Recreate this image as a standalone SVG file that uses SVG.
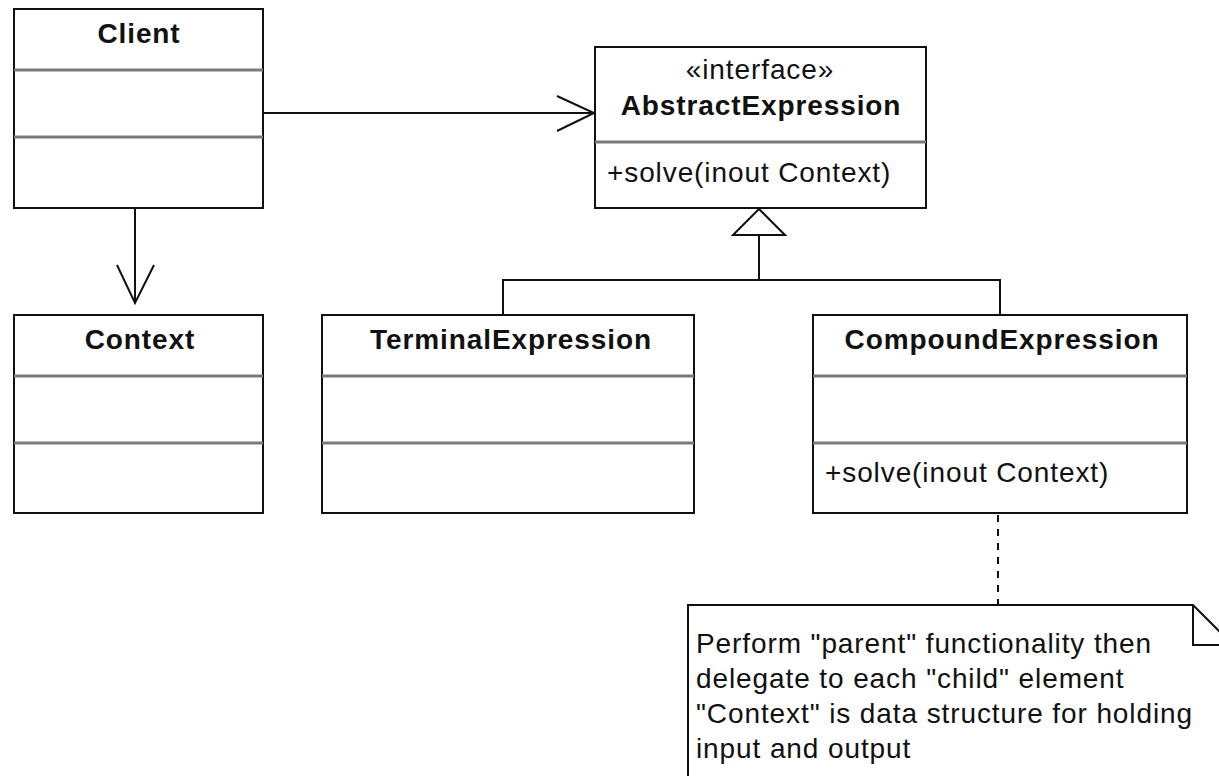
<svg xmlns="http://www.w3.org/2000/svg" width="1219" height="776" viewBox="0 0 1219 776">
<style>
.box{fill:#fff;stroke:#111;stroke-width:2}
.div{stroke:#7a7a7a;stroke-width:3}
.title{font-family:"Liberation Sans",Arial,sans-serif;font-weight:bold;font-size:28px;letter-spacing:0.9px;fill:#111;text-anchor:middle}
.txt{font-family:"Liberation Sans",Arial,sans-serif;font-size:28px;letter-spacing:0.9px;fill:#111}
.ln{fill:none;stroke:#111;stroke-width:2}
</style>
<rect width="1219" height="776" fill="#fff"/>
<g id="connectors">
<line class="ln" x1="263" y1="113" x2="594" y2="113"/>
<polyline class="ln" points="557,96 594,113 557,131"/>
<line class="ln" x1="135" y1="208" x2="135" y2="303"/>
<polyline class="ln" points="117,265 135,303 154,265"/>
<polygon class="ln" points="759,209 785,235 733,235"/>
<line class="ln" x1="759" y1="235" x2="759" y2="280"/>
<polyline class="ln" points="503,315 503,280 1000,280 1000,315"/>
<line class="ln" x1="998" y1="515" x2="998" y2="605" stroke-dasharray="7 7"/>
</g>
<g id="client">
<rect class="box" x="14" y="9" width="249" height="199"/>
<line class="div" x1="14" y1="70" x2="263" y2="70"/>
<line class="div" x1="14" y1="137" x2="263" y2="137"/>
<text class="title" x="139" y="43">Client</text>
</g>
<g id="abstractexpression">
<rect class="box" x="595" y="47" width="331" height="161"/>
<line class="div" x1="595" y1="142" x2="926" y2="142"/>
<text class="txt" x="760" y="79" text-anchor="middle" letter-spacing="0.6">«interface»</text>
<text class="title" x="761" y="115" letter-spacing="1.1">AbstractExpression</text>
<text class="txt" x="607" y="182">+solve(inout Context)</text>
</g>
<g id="context">
<rect class="box" x="14" y="315" width="249" height="198"/>
<line class="div" x1="14" y1="376" x2="263" y2="376"/>
<line class="div" x1="14" y1="443" x2="263" y2="443"/>
<text class="title" x="140" y="349" letter-spacing="0.7">Context</text>
</g>
<g id="terminalexpression">
<rect class="box" x="322" y="315" width="372" height="198"/>
<line class="div" x1="322" y1="376" x2="694" y2="376"/>
<line class="div" x1="322" y1="443" x2="694" y2="443"/>
<text class="title" x="511" y="349" letter-spacing="1.0">TerminalExpression</text>
</g>
<g id="compoundexpression">
<rect class="box" x="813" y="315" width="374" height="198"/>
<line class="div" x1="813" y1="376" x2="1187" y2="376"/>
<line class="div" x1="813" y1="443" x2="1187" y2="443"/>
<text class="title" x="1002" y="349">CompoundExpression</text>
<text class="txt" x="825" y="482">+solve(inout Context)</text>
</g>
<g id="note">
<polygon class="box" points="688,605 1193,605 1233,645 1233,790 688,790"/>
<polyline class="ln" points="1193,605 1193,645 1233,645"/>
<text class="txt" x="696" y="653" letter-spacing="0.8">Perform "parent" functionality then</text>
<text class="txt" x="696" y="688" letter-spacing="0.8">delegate to each "child" element</text>
<text class="txt" x="696" y="723" letter-spacing="0.8">"Context" is data structure for holding</text>
<text class="txt" x="696" y="758" letter-spacing="0.8">input and output</text>
</g>
</svg>
